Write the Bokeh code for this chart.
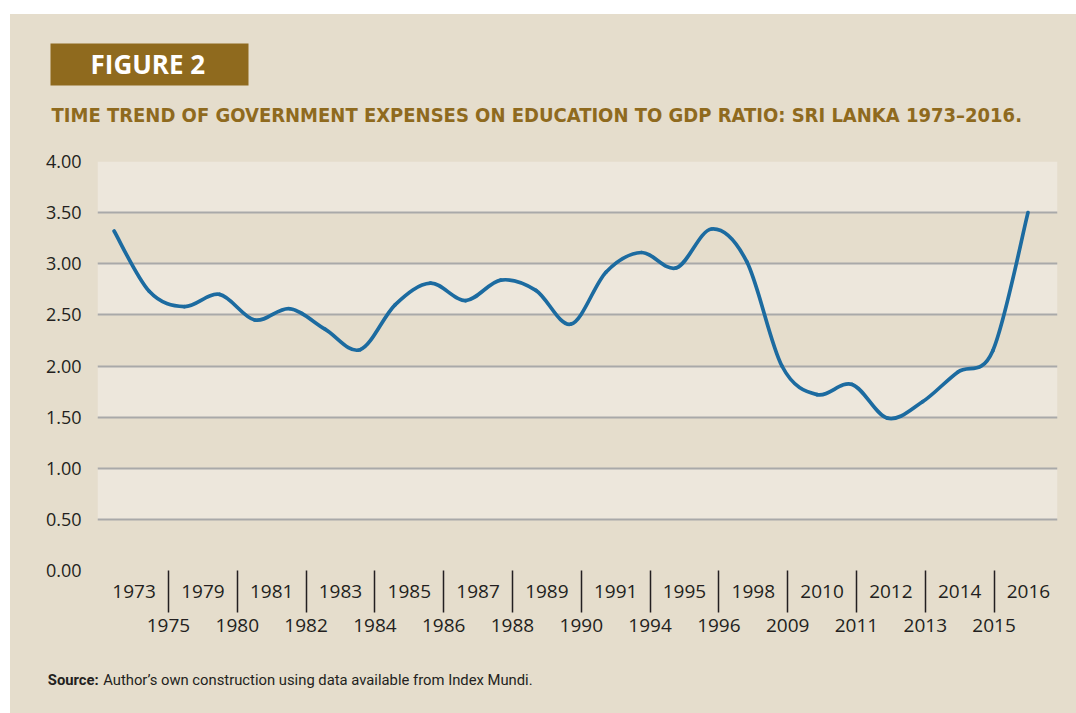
from bokeh.plotting import figure
from bokeh.layouts import column, row
from bokeh.models import (Range1d, FixedTicker, LinearAxis, NumeralTickFormatter,
                          Label, BoxAnnotation, Spacer)
from bokeh.embed import file_html
from bokeh.resources import INLINE

# ---------------- data ----------------
years = ["1973", "1975", "1979", "1980", "1981", "1982", "1983", "1984", "1985",
         "1986", "1987", "1988", "1989", "1990", "1991", "1994", "1995", "1996",
         "1998", "2009", "2010", "2011", "2012", "2013", "2014", "2015", "2016"]
ratio = [3.32, 2.73, 2.58, 2.70, 2.45, 2.56, 2.36, 2.16, 2.60,
         2.81, 2.64, 2.84, 2.74, 2.41, 2.92, 3.11, 2.96, 3.34,
         3.02, 2.00, 1.72, 1.82, 1.49, 1.65, 1.94, 2.15, 3.50]
y_ticks = [0.0, 0.5, 1.0, 1.5, 2.0, 2.5, 3.0, 3.5, 4.0]

title_text = "TIME TREND OF GOVERNMENT EXPENSES ON EDUCATION TO GDP RATIO: SRI LANKA 1973\u20132016."
figure_tag = "FIGURE 2"
source_bold = "Source:"
source_text = "Author\u2019s own construction using data available from Index Mundi."

# ---------------- styles ----------------
BG = "#e5ddcc"
LIGHT = "#ede7dc"
BROWN = "#8f6a1e"
LINE = "#1c6ba0"
TXT = "#231f20"
GRID = "#a9a9a9"

PAGE_W, PAGE_H = 1076, 713
X0, Y0 = 10, 14                  # white strip on the left / top
FIG_W = PAGE_W - X0
H_HEAD, H_MAIN = 130, 516
H_FOOT = PAGE_H - Y0 - H_HEAD - H_MAIN


def blank(h, ytop):
    f = figure(width=FIG_W, height=h, output_backend="svg", toolbar_location=None,
               x_axis_type=None, y_axis_type=None,
               x_range=Range1d(X0, PAGE_W), y_range=Range1d(-(ytop + h), -ytop),
               frame_align=False)
    f.min_border = 0
    f.min_border_left = f.min_border_right = f.min_border_top = f.min_border_bottom = 0
    f.background_fill_color = BG
    f.border_fill_color = BG
    f.outline_line_color = None
    return f


# ---------------- header ----------------
head = blank(H_HEAD, Y0)
head.add_layout(BoxAnnotation(left=50, right=248, top=-43, bottom=-85,
                              fill_color=BROWN, fill_alpha=1, line_color=None))
head.add_layout(Label(x=90, y=-63, text=figure_tag, text_font="Open Sans",
                      text_font_style="bold", text_font_size="26px", text_color="white",
                      text_baseline="alphabetic", text_align="left"))
head.add_layout(Label(x=51, y=-114.5, text=title_text,
                      text_font="DejaVu Sans Condensed", text_font_style="bold",
                      text_font_size="20px", text_color=BROWN,
                      text_baseline="alphabetic", text_align="left"))

# ---------------- main chart ----------------
n = len(years)
xs = list(range(n))

main_top = Y0 + H_HEAD
p = figure(width=FIG_W, height=H_MAIN, output_backend="svg", toolbar_location=None,
           x_axis_type=None, x_range=Range1d(-0.472, 26.84), y_range=Range1d(0, 4),
           min_border_left=87, min_border_right=19, min_border_top=161 - main_top,
           min_border_bottom=main_top + H_MAIN - 570, frame_align=False)
p.background_fill_color = BG
p.border_fill_color = BG
p.outline_line_color = None

yt = FixedTicker(ticks=y_ticks)
p.yaxis.ticker = yt
p.yaxis.formatter = NumeralTickFormatter(format="0.00")
p.yaxis.axis_line_color = None
p.yaxis.major_tick_line_color = None
p.yaxis.minor_tick_line_color = None
p.yaxis.major_label_standoff = 10
p.yaxis.major_label_text_font = "Open Sans"
p.yaxis.major_label_text_font_size = "18px"
p.yaxis.major_label_text_color = TXT
p.ygrid.ticker = yt
p.ygrid.grid_line_color = GRID
p.ygrid.grid_line_width = 2
p.ygrid.band_fill_color = LIGHT
p.ygrid.band_fill_alpha = 1.0

label_pos = [round((20 + 34.4 * i) / 35.15, 4) for i in range(n)]
even = [label_pos[i] for i in range(0, n, 2)]
odd = [label_pos[i] for i in range(1, n, 2)]

axA = LinearAxis(ticker=FixedTicker(ticks=even, minor_ticks=[]),
                 major_label_overrides={label_pos[i]: years[i] for i in range(0, n, 2)})
axA.axis_line_color = None
axA.major_tick_line_color = None
axA.minor_tick_line_color = None
axA.major_tick_out = 0
axA.major_tick_in = 0
axA.minor_tick_in = 0
axA.minor_tick_out = 0
axA.major_label_standoff = 14
axA.major_label_text_font = "Open Sans"
axA.major_label_text_font_size = "19px"
axA.major_label_text_color = TXT
p.add_layout(axA, "below")

axB = LinearAxis(ticker=FixedTicker(ticks=odd, minor_ticks=[]),
                 major_label_overrides={label_pos[i]: years[i] for i in range(1, n, 2)})
axB.axis_line_color = None
axB.major_tick_line_color = TXT
axB.major_tick_line_width = 1.5
axB.minor_tick_line_color = None
axB.major_tick_out = 12
axB.major_tick_in = 30
axB.minor_tick_in = 0
axB.minor_tick_out = 0
axB.major_label_standoff = 6
axB.major_label_text_font = "Open Sans"
axB.major_label_text_font_size = "19px"
axB.major_label_text_color = TXT
p.add_layout(axB, "below")

x0, y0, x1, y1, cx0, cy0, cx1, cy1 = [], [], [], [], [], [], [], []
for k in range(n - 1):
    a = max(k - 1, 0)
    d = min(k + 2, n - 1)
    x0.append(xs[k]); y0.append(ratio[k])
    x1.append(xs[k + 1]); y1.append(ratio[k + 1])
    cx0.append(xs[k] + (xs[k + 1] - xs[a]) / 6.0)
    cy0.append(ratio[k] + (ratio[k + 1] - ratio[a]) / 6.0)
    cx1.append(xs[k + 1] - (xs[d] - xs[k]) / 6.0)
    cy1.append(ratio[k + 1] - (ratio[d] - ratio[k]) / 6.0)
p.bezier(x0=x0, y0=y0, x1=x1, y1=y1, cx0=cx0, cy0=cy0, cx1=cx1, cy1=cy1,
         line_color=LINE, line_width=3.7, line_cap="round")

# ---------------- footer ----------------
foot = blank(H_FOOT, main_top + H_MAIN)
foot.add_layout(Label(x=47.3, y=-679, text=source_bold,
                      text_font="Roboto", text_font_style="bold",
                      text_font_size="14.8px", text_color=TXT,
                      text_baseline="alphabetic", text_align="left"))
foot.add_layout(Label(x=102.7, y=-679, text=source_text,
                      text_font="Roboto", text_font_size="14.8px",
                      text_color=TXT, text_baseline="alphabetic", text_align="left"))

panel = column(head, p, foot, spacing=0, styles={"background-color": BG})
layout = row(Spacer(width=X0, height=PAGE_H),
             column(Spacer(width=FIG_W, height=Y0), panel, spacing=0),
             spacing=0)

open("out.html", "w").write(file_html(layout, INLINE))
